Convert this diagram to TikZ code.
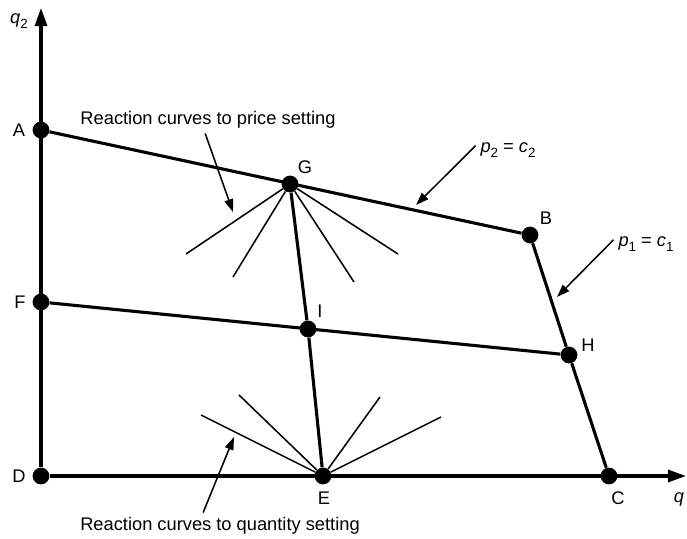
\documentclass[tikz,border=0pt]{standalone}
\usepackage{fontspec}
\setmainfont{Liberation Sans}
\usetikzlibrary{arrows.meta, positioning}
\newcommand{\lowsub}[1]{\raisebox{-0.5ex}{\fontsize{9.5}{10}\selectfont #1}}

\begin{document}
\begin{tikzpicture}[x=0.025cm, y=-0.025cm,
  every node/.style={font=\fontsize{13}{15}\selectfont},
  dot/.style={circle, fill=black, inner sep=0pt, minimum size=0.42cm},
  mainline/.style={line width=2.2pt},
  fanline/.style={line width=1.1pt},
  pointer/.style={line width=1.1pt, -{Triangle[length=0.32cm, width=0.22cm]}},
  axis/.style={line width=2.2pt, -{Triangle[length=0.45cm, width=0.3cm]}}]
\useasboundingbox (0,0) rectangle (687,539);
% Points of the diagram
\node[dot] (A) at (41,130) {};
\node[dot] (G) at (290,184) {};
\node[dot] (B) at (530,235) {};
\node[dot] (F) at (41,302) {};
\node[dot] (I) at (308,329) {};
\node[dot] (H) at (569,355) {};
\node[dot] (D) at (41,476) {};
\node[dot] (E) at (323,476) {};
\node[dot] (C) at (609,476) {};
% Axes
\coordinate (ytop) at (41,8);
\coordinate (xend) at (686,476);
\draw[axis] (D) -- (ytop);
\draw[axis] (D) -- (xend);
\node (tq2) at (19,21) {\textit{q}\lowsub{2}};
\node (tq) at (679,499) {\textit{q}};
% Point labels
\node (tA) at (19,130) {A};
\node (tF) at (20,302) {F};
\node (tD) at (19,476) {D};
\node (tG) at (305,167) {G};
\node (tB) at (546,218) {B};
\node (tI) at (320,311) {I};
\node (tH) at (588,345) {H};
\node (tE) at (324,498) {E};
\node (tC) at (618,498) {C};
% Main lines
\draw[mainline] (A) -- (B);
\draw[mainline] (F) -- (H);
\draw[mainline] (G) -- (I) -- (E);
\draw[mainline] (B) -- (H) -- (C);
% Reaction curves at G
\coordinate (g1) at (186,254);
\coordinate (g2) at (233,277);
\coordinate (g3) at (354,282);
\coordinate (g4) at (398,254);
\foreach \p in {g1,g2,g3,g4}
  \draw[fanline] (G) -- (\p);
% Reaction curves at E
\coordinate (e1) at (201,415);
\coordinate (e2) at (239,395);
\coordinate (e3) at (380,397);
\coordinate (e4) at (441,417);
\foreach \p in {e1,e2,e3,e4}
  \draw[fanline] (E) -- (\p);
% Annotations
\node (price) at (208,120) {Reaction curves to price setting};
\node (qty) at (220,526) {Reaction curves to quantity setting};
\node (p2c2) at (508,150) {\textit{p}\lowsub{2} = \textit{c}\lowsub{2}};
\node (p1c1) at (646,244) {\textit{p}\lowsub{1} = \textit{c}\lowsub{1}};
\coordinate (priceTip) at (233,212);
\coordinate (qtyTip) at (234,437);
\coordinate (p2Tip) at (416,205);
\coordinate (p1Tip) at (557,297);
\draw[pointer] ([xshift=-2pt]price.south) -- (priceTip);
\draw[pointer] ([xshift=-12pt]qty.north) -- (qtyTip);
\draw[pointer] ([yshift=3pt]p2c2.west) -- (p2Tip);
\draw[pointer] ([yshift=3pt]p1c1.west) -- (p1Tip);
\end{tikzpicture}
\end{document}
